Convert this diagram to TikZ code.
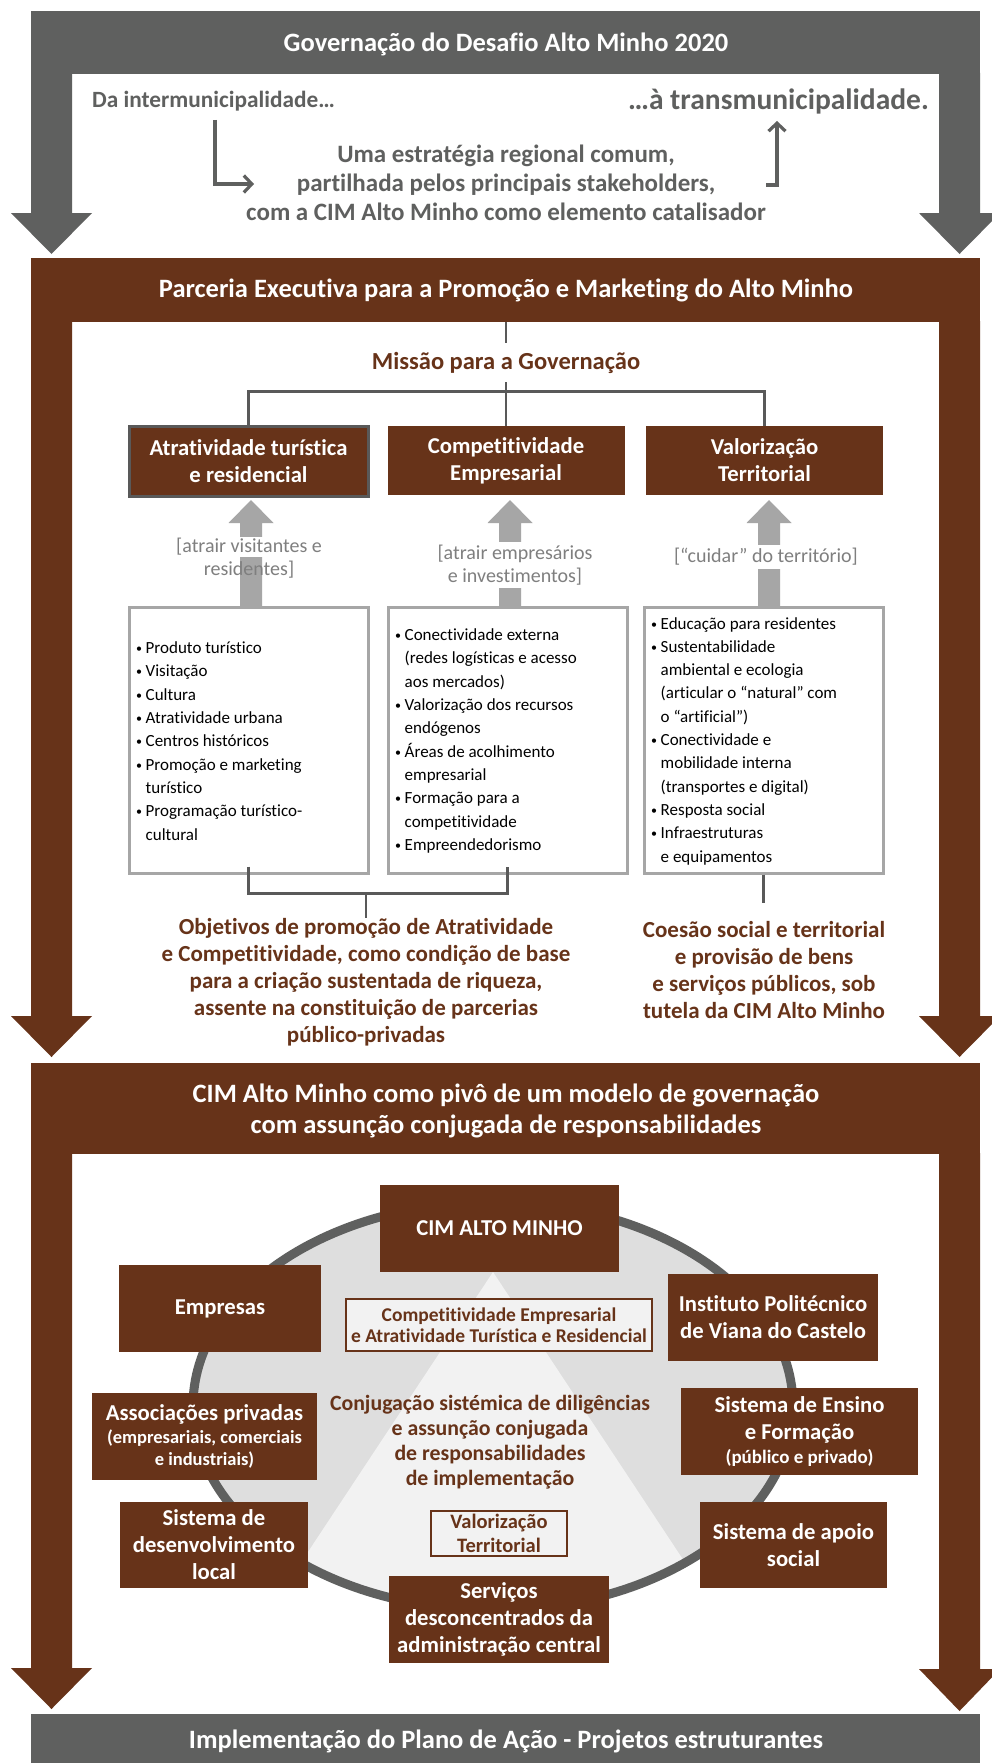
\documentclass[tikz,border=0pt]{standalone}
\usepackage{fontspec}
\setmainfont{Carlito}[Ligatures=NoCommon]
\usetikzlibrary{arrows.meta}
\definecolor{brn}{RGB}{103,51,25}
\definecolor{dgray}{RGB}{95,96,95}
\definecolor{lgray}{RGB}{166,166,166}
\definecolor{lngray}{RGB}{89,89,89}
\definecolor{ellfill}{RGB}{222,222,222}
\definecolor{trifill}{RGB}{242,242,242}
\definecolor{labgray}{RGB}{127,127,127}
\newcommand\dnarrow[5]{\fill[#5] (#1-20.5,#2) -- (#1+20.5,#2) -- (#1+20.5,#3) -- (#1+40.5,#3) -- (#1,#4) -- (#1-40.5,#3) -- (#1-20.5,#3) -- cycle;}
\newcommand\upblk[4]{\fill[lgray] (#1-11,#4) -- (#1-11,#3) -- (#1-22.5,#3) -- (#1,#2) -- (#1+22.5,#3) -- (#1+11,#3) -- (#1+11,#4) -- cycle;}
\newcommand\bl{\makebox[9.5pt][l]{\raisebox{1pt}{\fontsize{12}{12}\selectfont •}}}
\newcommand\cn{\hspace*{9.5pt}}
\begin{document}
\begin{tikzpicture}[x=1pt,y=-1pt,
 ttl/.style={text=white,font=\bfseries\fontsize{26.5}{31}\selectfont,align=center,inner sep=0pt},
 bbox/.style={fill=brn,text=white,font=\bfseries\fontsize{22.7}{27}\selectfont,align=center,inner sep=0pt},
 obox/.style={draw=brn,line width=2.5pt,fill=trifill,text=brn,font=\bfseries\fontsize{19.5}{21.5}\selectfont,align=center,inner sep=0pt},
 lbox/.style={draw=lgray,line width=3pt,fill=white,minimum width=239,minimum height=266,inner sep=0pt},
 ltxt/.style={font=\fontsize{17}{23.3}\selectfont,align=left,anchor=west,inner sep=0pt},
 lab/.style={text=labgray,font=\fontsize{20}{23.5}\selectfont,align=center,inner sep=1pt},
 brtxt/.style={text=brn,font=\bfseries\fontsize{23}{27}\selectfont,align=center,inner sep=0pt},
 gtxt/.style={text=dgray,font=\bfseries\fontsize{25}{28.7}\selectfont,align=center,inner sep=0pt},
 tree/.style={draw=lngray,line width=2.5pt},
 conn/.style={draw=dgray,line width=3.2pt,-{Straight Barb[length=8pt,width=17pt]}}
]
\useasboundingbox (0,0) rectangle (992,1763);
\clip (0,0) rectangle (992,1763);
\fill[white] (0,0) rectangle (992,1763);
% ---------- section 1
\fill[dgray] (31,11) rectangle (980,74);
\dnarrow{51.5}{73}{213}{254}{dgray}
\dnarrow{959.5}{73}{213}{254}{dgray}
\node[ttl] (t1) at (506,44) {Governação do Desafio Alto Minho 2020};
\node[gtxt,font=\bfseries\fontsize{23.3}{24}\selectfont,anchor=west] (intra) at (92,101) {Da intermunicipalidade…};
\node[gtxt,font=\bfseries\fontsize{29.5}{30}\selectfont,anchor=east] (trans) at (929,101) {…à transmunicipalidade.};
\node[gtxt] (strat) at (506,183) {Uma estratégia regional comum,\\partilhada pelos principais stakeholders,\\com a CIM Alto Minho como elemento catalisador};
\coordinate (a1s) at (215,120);
\coordinate (a1e) at (254,184);
\draw[conn] (a1s) |- (a1e);
\coordinate (a2s) at (766,185);
\coordinate (a2e) at (777,121);
\draw[conn] (a2s) -| (a2e);
% ---------- section 2
\fill[brn] (31,258) rectangle (980,322);
\dnarrow{51.5}{321}{1016}{1057}{brn}
\dnarrow{959.5}{321}{1016}{1057}{brn}
\node[ttl] (t2) at (506,290) {Parceria Executiva para a Promoção e Marketing do Alto Minho};
\node[brtxt,font=\bfseries\fontsize{24.5}{25}\selectfont] (miss) at (506,363) {Missão para a Governação};
\coordinate (mtop) at (506,322);
\coordinate (mbot) at (506,343);
\draw[tree] (mtop) -- (mbot);
\node[bbox,draw=lngray,line width=3pt,minimum width=239,minimum height=70] (bA) at (248.5,461) {Atratividade turística\\e residencial};
\node[bbox,minimum width=237,minimum height=69] (bB) at (506,460.5) {Competitividade\\Empresarial};
\node[bbox,minimum width=237,minimum height=69] (bC) at (764.5,460.5) {Valorização\\Territorial};
\coordinate (mlow) at (506,382);
\draw[tree] (mlow) -- (bB.north);
\draw[tree] (bA.north) -- ++(0,-33) -| (bC.north);
\upblk{251}{500}{523}{606}
\upblk{510}{500}{523}{606}
\upblk{769}{500}{523}{606}
\node[lab,fill=white] (labA1) at (249,547) {[atrair visitantes e};
\node[lab] (labA2) at (249,570) {residentes]};
\node[lab,fill=white,inner sep=3pt] (labB) at (515,565) {[atrair empresários\\e investimentos]};
\node[lab,fill=white,inner sep=3pt] (labC) at (766,557) {[“cuidar” do território]};
\node[lbox] (LA) at (248.5,740) {};
\node[lbox] (LB) at (507.5,740) {};
\node[lbox] (LC) at (763.5,740) {};
\node[ltxt] (LAt) at (136,741) {\bl Produto turístico\\\bl Visitação\\\bl Cultura\\\bl Atratividade urbana\\\bl Centros históricos\\\bl Promoção e marketing\\\cn turístico\\\bl Programação turístico-\\\cn cultural};
\node[ltxt] (LBt) at (395,741) {\bl Conectividade externa\\\cn (redes logísticas e acesso\\\cn aos mercados)\\\bl Valorização dos recursos\\\cn endógenos\\\bl Áreas de acolhimento\\\cn empresarial\\\bl Formação para a\\\cn competitividade\\\bl Empreendedorismo};
\node[ltxt] (LCt) at (651,741) {\bl Educação para residentes\\\bl Sustentabilidade\\\cn ambiental e ecologia\\\cn (articular o “natural” com\\\cn o “artificial”)\\\bl Conectividade e\\\cn mobilidade interna\\\cn (transportes e digital)\\\bl Resposta social\\\bl Infraestruturas\\\cn e equipamentos};
\node[brtxt] (obj) at (366,982) {Objetivos de promoção de Atratividade\\e Competitividade, como condição de base\\para a criação sustentada de riqueza,\\assente na constituição de parcerias\\público-privadas};
\node[brtxt] (coe) at (764,970) {Coesão social e territorial\\e provisão de bens\\e serviços públicos, sob\\tutela da CIM Alto Minho};
\draw[tree] ([yshift=8pt]LA.south) -- ++(0,27) -| ([yshift=8pt]LB.south);
\coordinate (brk) at (366,893);
\coordinate (brkend) at (366,918);
\draw[tree] (brk) -- (brkend);
\coordinate (cend) at (763.5,903);
\draw[tree] (LC.south) -- (cend);
% ---------- section 3
\fill[brn] (31,1063) rectangle (980,1154);
\dnarrow{51.5}{1153}{1668}{1709}{brn}
\dnarrow{959.5}{1153}{1669}{1711}{brn}
\node[ttl] (t3) at (506,1110.5) {CIM Alto Minho como pivô de um modelo de governação\\com assunção conjugada de responsabilidades};
\fill[ellfill] (493,1406) ellipse [x radius=300, y radius=204];
\begin{scope}
\clip (493,1406) ellipse [x radius=300, y radius=204];
\coordinate (apex) at (493,1272);
\fill[trifill] (apex) -- (263,1620) -- (723,1620) -- cycle;
\end{scope}
\draw[dgray,line width=9pt] (493,1406) ellipse [x radius=300, y radius=204];
\node[bbox,minimum width=239,minimum height=87] (cim) at (499.5,1228.5) {CIM ALTO MINHO};
\node[bbox,minimum width=202,minimum height=87] (emp) at (220,1308.5) {Empresas};
\node[bbox,minimum width=210,minimum height=87] (inst) at (773,1317.5) {Instituto Politécnico\\de Viana do Castelo};
\node[bbox,minimum width=225,minimum height=87] (assoc) at (204.5,1436.5) {Associações privadas\\[-4pt]{\fontsize{18.5}{22}\selectfont (empresariais, comerciais}\\[-5pt]{\fontsize{18.5}{22}\selectfont e industriais)}};
\node[bbox,minimum width=237,minimum height=87] (ens) at (799.5,1431.5) {Sistema de Ensino\\e Formação\\[-3pt]{\fontsize{19}{22}\selectfont (público e privado)}};
\node[bbox,minimum width=188,minimum height=86] (desv) at (214,1545) {Sistema de\\desenvolvimento\\local};
\node[bbox,minimum width=187,minimum height=86] (apoio) at (793.5,1545) {Sistema de apoio\\social};
\node[bbox,minimum width=220,minimum height=87] (serv) at (499,1619.5) {Serviços\\desconcentrados da\\administração central};
\node[obox,minimum width=306,minimum height=52] (comp) at (499,1325) {Competitividade Empresarial\\e Atratividade Turística e Residencial};
\node[obox,minimum width=136,minimum height=45,font=\bfseries\fontsize{20.5}{23.5}\selectfont] (valor) at (499,1533.5) {Valorização\\Territorial};
\node[brtxt,font=\bfseries\fontsize{21.8}{25}\selectfont] (conj) at (490,1442) {Conjugação sistémica de diligências\\e assunção conjugada\\de responsabilidades\\de implementação};
% ---------- bottom
\fill[dgray] (31,1714) rectangle (980,1763);
\node[ttl] (t4) at (506,1741) {Implementação do Plano de Ação - Projetos estruturantes};
\end{tikzpicture}
\end{document}
